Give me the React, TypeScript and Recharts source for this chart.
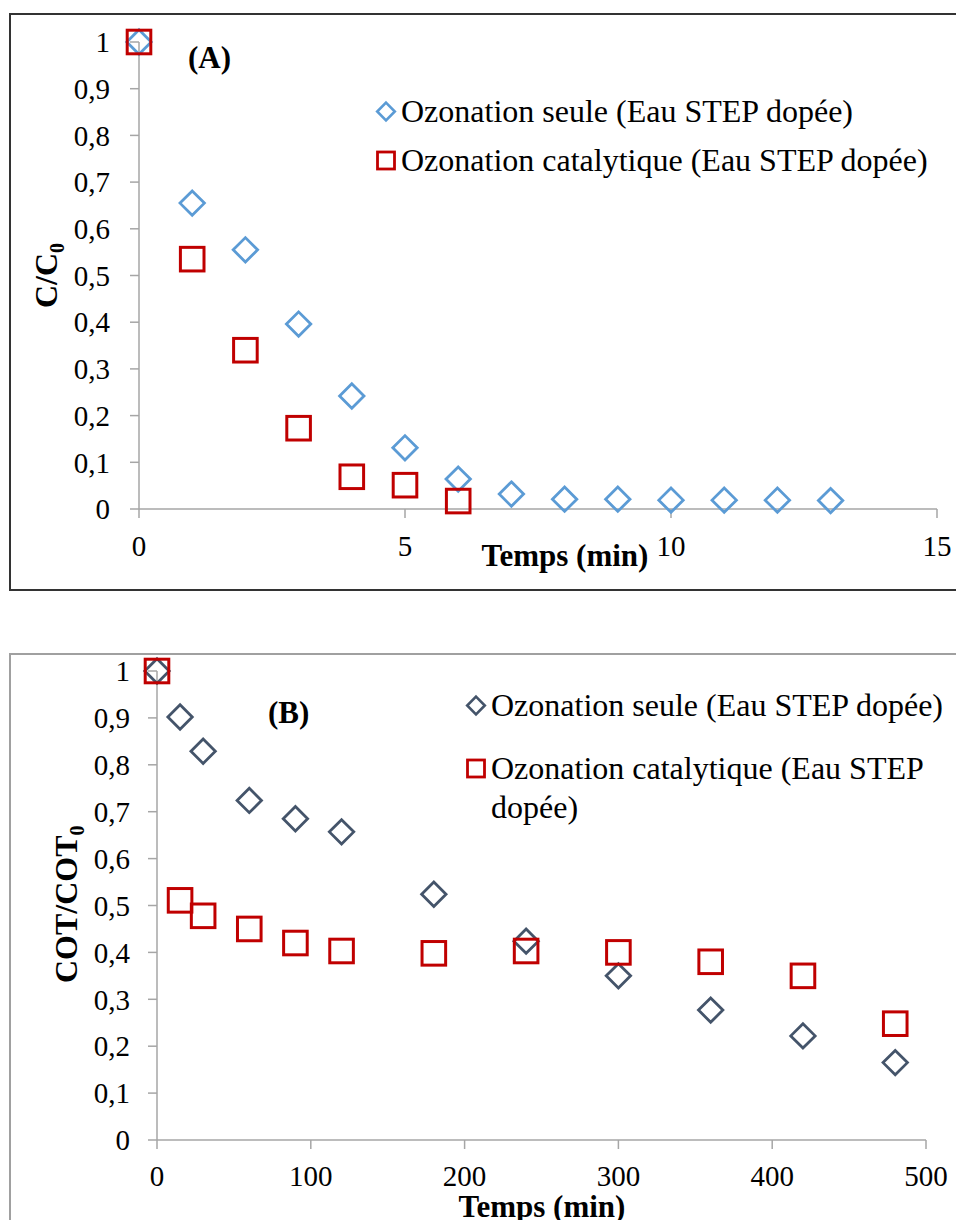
import React from "react";
import { ScatterChart, Scatter, XAxis, YAxis, Legend, Label } from "recharts";

const FONT = '"Liberation Serif", "Times New Roman", serif';
const BLUE = "#5b9bd5";
const SLATE = "#44546a";
const RED = "#c00000";
const AXIS = "#a6a6a6";

const seriesNames = ["Ozonation seule (Eau STEP dopée)", "Ozonation catalytique (Eau STEP dopée)"];

// (A) C/C0, temps en minutes
const timeSeuleA = [0, 1, 2, 3, 4, 5, 6, 7, 8, 9, 10, 11, 12, 13];
const seuleA = [1, 0.655, 0.555, 0.396, 0.242, 0.131, 0.064, 0.032, 0.021, 0.021, 0.019, 0.019, 0.019, 0.018];
const timeCatA = [0, 1, 2, 3, 4, 5, 6];
const catA = [1, 0.535, 0.34, 0.173, 0.069, 0.051, 0.017];
const xTicksA = [0, 5, 10, 15];

// (B) COT/COT0, temps en minutes
const timeB = [0, 15, 30, 60, 90, 120, 180, 240, 300, 360, 420, 480];
const seuleB = [1, 0.902, 0.829, 0.724, 0.685, 0.657, 0.524, 0.424, 0.35, 0.277, 0.222, 0.165];
const catB = [1, 0.511, 0.478, 0.45, 0.42, 0.403, 0.398, 0.403, 0.4, 0.38, 0.35, 0.248];
const xTicksB = [0, 100, 200, 300, 400, 500];

const yTicks = [0, 0.1, 0.2, 0.3, 0.4, 0.5, 0.6, 0.7, 0.8, 0.9, 1];

const pts = (xs: number[], ys: number[]) => xs.map((x, i) => ({ x, y: ys[i] }));
const fmt = (v: number) => String(Math.round(v * 10) / 10).replace(".", ",");

const diamondPath = (cx: number, cy: number, r: number) =>
  `M${cx},${cy - r}L${cx + r},${cy}L${cx},${cy + r}L${cx - r},${cy}Z`;

const diamond = (color: string) => (p: any) =>
  p.cx == null ? <g /> : (
    <path d={diamondPath(p.cx, p.cy, 12.2)} fill="none" stroke={color} strokeWidth={2.8} />
  );

const square = (color: string) => (p: any) =>
  p.cx == null ? <g /> : (
    <rect x={p.cx - 11.8} y={p.cy - 11.8} width={23.6} height={23.6} fill="none" stroke={color} strokeWidth={3} />
  );

// legend drawn in series order (Recharts 3 sorts the payload by name otherwise)
const legendContent = (diamondColor: string, lineH: number, gap: number, textWidth?: number) => () => (
  <div style={{ fontFamily: FONT, fontSize: 32, color: "#000" }}>
    {seriesNames.map((name, i) => (
      <div key={name} style={{ display: "flex", alignItems: "flex-start", lineHeight: `${lineH}px`, marginBottom: gap }}>
        <svg width={22} height={lineH} style={{ flex: "none" }}>
          {i === 0 ? (
            <path d={diamondPath(11, lineH / 2, 8.8)} fill="none" stroke={diamondColor} strokeWidth={2.6} />
          ) : (
            <rect x={2.5} y={lineH / 2 - 8.5} width={17} height={17} fill="none" stroke={RED} strokeWidth={2.8} />
          )}
        </svg>
        <span style={{ marginLeft: 4, width: textWidth, whiteSpace: textWidth ? "normal" : "nowrap" }}>{name}</span>
      </div>
    ))}
  </div>
);

const tickStyle = { fill: "#000", fontSize: 29, fontFamily: FONT };
const lineStyle = { stroke: AXIS, strokeWidth: 1.5 };

const yTitle = (x: number, y: number, main: string) => () => (
  <text x={x} y={y} transform={`rotate(-90 ${x} ${y})`} fontFamily={FONT} fontSize={32} fontWeight="bold" fill="#000">
    {main}
    <tspan fontSize={20} dy={7}>0</tspan>
  </text>
);

const xTitle = (x: number, y: number) => () => (
  <text x={x} y={y} textAnchor="middle" fontFamily={FONT} fontSize={31} fontWeight="bold" fill="#000">
    Temps (min)
  </text>
);

export default function App() {
  return (
    <div style={{ position: "relative", width: 956, height: 1220, overflow: "hidden", background: "#fff", fontFamily: FONT }}>
      <style>{"body{margin:0;overflow:hidden}"}</style>

      <div style={{ position: "absolute", left: 9, top: 13, width: 980, height: 578, boxSizing: "border-box", border: "2px solid #333" }} />
      <div style={{ position: "absolute", left: 9, top: 653, width: 980, height: 600, boxSizing: "border-box", border: "2px solid #a0a0a0" }} />

      <div style={{ position: "absolute", left: 188, top: 40, fontFamily: FONT, fontSize: 31, fontWeight: "bold" }}>(A)</div>
      <div style={{ position: "absolute", left: 268, top: 695, fontFamily: FONT, fontSize: 31, fontWeight: "bold" }}>(B)</div>

      <div style={{ position: "absolute", left: 0, top: 0 }}>
        <ScatterChart width={956} height={600} margin={{ top: 42, right: 19, bottom: 51, left: 59 }}>
          <XAxis type="number" dataKey="x" domain={[0, 15]} ticks={xTicksA} interval={0}
            tick={tickStyle} tickSize={9} tickMargin={17} axisLine={lineStyle} tickLine={lineStyle} height={40}>
            <Label content={xTitle(565, 566)} />
          </XAxis>
          <YAxis type="number" dataKey="y" domain={[0, 1]} ticks={yTicks} interval={0} tickFormatter={fmt}
            tick={tickStyle} tickSize={9} tickMargin={20} axisLine={lineStyle} tickLine={lineStyle} width={80}>
            <Label content={yTitle(57, 308, "C/C")} />
          </YAxis>
          <Legend layout="horizontal" verticalAlign="middle" align="center"
            wrapperStyle={{ left: 375, top: 86.5, width: 580 }}
            content={legendContent(BLUE, 49, 0)} />
          <Scatter name={seriesNames[0]} data={pts(timeSeuleA, seuleA)} fill={BLUE} shape={diamond(BLUE)} isAnimationActive={false} />
          <Scatter name={seriesNames[1]} data={pts(timeCatA, catA)} fill={RED} shape={square(RED)} isAnimationActive={false} />
        </ScatterChart>
      </div>

      <div style={{ position: "absolute", left: 0, top: 640 }}>
        <ScatterChart width={956} height={580} margin={{ top: 31, right: 30, bottom: 40, left: 77 }}>
          <XAxis type="number" dataKey="x" domain={[0, 500]} ticks={xTicksB} interval={0}
            tick={tickStyle} tickSize={9} tickMargin={16} axisLine={lineStyle} tickLine={lineStyle} height={40}>
            <Label content={xTitle(542, 577)} />
          </XAxis>
          <YAxis type="number" dataKey="y" domain={[0, 1]} ticks={yTicks} interval={0} tickFormatter={fmt}
            tick={tickStyle} tickSize={9} tickMargin={18} axisLine={lineStyle} tickLine={lineStyle} width={80}>
            <Label content={yTitle(77, 343, "COT/COT")} />
          </YAxis>
          <Legend layout="horizontal" verticalAlign="middle" align="center"
            wrapperStyle={{ left: 465, top: 45.5, width: 500 }}
            content={legendContent(SLATE, 39, 24, 462)} />
          <Scatter name={seriesNames[0]} data={pts(timeB, seuleB)} fill={SLATE} shape={diamond(SLATE)} isAnimationActive={false} />
          <Scatter name={seriesNames[1]} data={pts(timeB, catB)} fill={RED} shape={square(RED)} isAnimationActive={false} />
        </ScatterChart>
      </div>
    </div>
  );
}
